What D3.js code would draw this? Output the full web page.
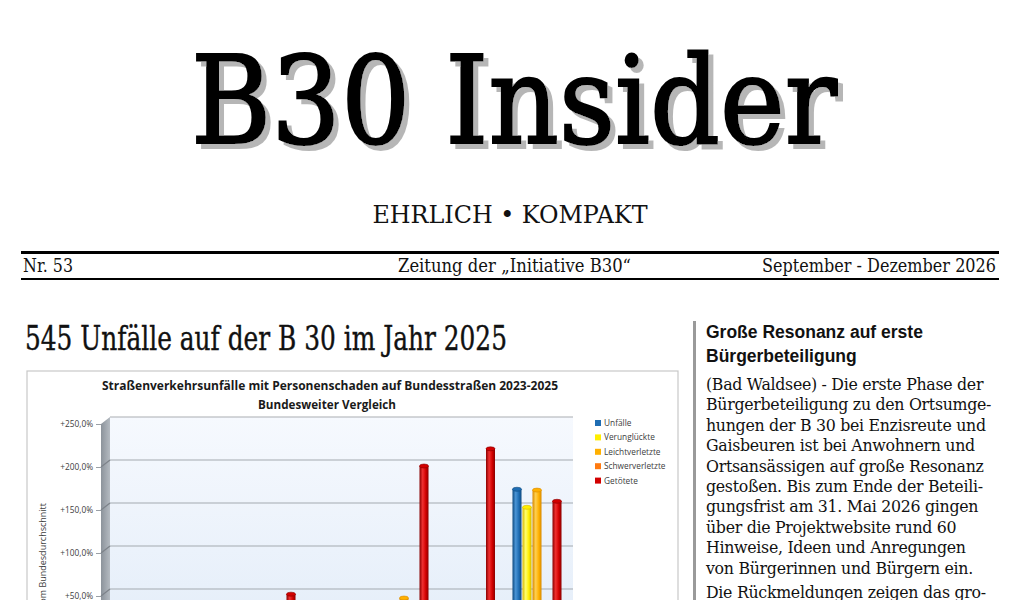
<!DOCTYPE html>
<html lang="de">
<head>
<meta charset="utf-8">
<title>B30 Insider</title>
<script src="https://cdn.jsdelivr.net/npm/d3@7"></script>
<style>
  html, body { margin: 0; padding: 0; background: #fff; }
  svg { display: block; }
</style>
</head>
<body>
<script>
(function (d3) {
    "use strict";

    /***** Data *****/
    var groups = ["BW 2023", "BW 2024", "BW 2025", "B 30 2023", "B 30 2024", "B 30 2025", "B 30 Ø"];
    var seriesNames = ["Unfälle", "Verunglückte", "Leichtverletzte", "Schwerverletzte", "Getötete"];
    var unfaelle        = [12, 8, 20, 15, 24, 26, 166];
    var verunglueckte   = [10, 5, 18, 12, 22, 20, 145];
    var leichtverletzte = [8, 3, 15, 10, 39.5, 18, 165];
    var schwerverletzte = [18, 14, 24, 20, 25, 22, 25];
    var getoetete       = [-20, 22, 44, 10, 193, 213, 152];
    var yTicks = [-100, -50, 0, 50, 100, 150, 200, 250];

    var headerTexts = ["Nr. 53", "Zeitung der „Initiative B30“", "September - Dezember 2026"];
    var sideTitle = ["Große Resonanz auf erste", "Bürgerbeteiligung"];
    var sideBody = [
        "(Bad Waldsee) - Die erste Phase der",
        "Bürgerbeteiligung zu den Ortsumge-",
        "hungen der B 30 bei Enzisreute und",
        "Gaisbeuren ist bei Anwohnern und",
        "Ortsansässigen auf große Resonanz",
        "gestoßen. Bis zum Ende der Beteili-",
        "gungsfrist am 31. Mai 2026 gingen",
        "über die Projektwebsite rund 60",
        "Hinweise, Ideen und Anregungen",
        "von Bürgerinnen und Bürgern ein."
    ];
    var sideBody2 = ["Die Rückmeldungen zeigen das gro-"];

    var seriesValues = [unfaelle, verunglueckte, leichtverletzte, schwerverletzte, getoetete];
    var seriesColors = ["#1f6db3", "#ffee00", "#ffb000", "#ff7a10", "#d20000"];
    var seriesDark   = ["#0e4a80", "#d8b800", "#d88a00", "#c85000", "#8a0000"];
    var seriesLight  = ["#4b95d6", "#ffff70", "#ffd050", "#ffa050", "#f03030"];

    var serif = "'DejaVu Serif', 'Liberation Serif', serif";
    var sans = "'Liberation Sans', Arial, sans-serif";
    var chartFont = "'Open Sans', 'Noto Sans', sans-serif";

    var svg = d3.select("body").append("svg")
        .attr("width", 1024)
        .attr("height", 600);

    svg.append("rect").attr("width", 1024).attr("height", 600).attr("fill", "#fff");

    var defs = svg.append("defs");

    /***** Masthead *****/
    var shadow = defs.append("filter").attr("id", "shadow")
        .attr("x", "-5%").attr("y", "-10%").attr("width", "115%").attr("height", "130%");
    shadow.append("feOffset").attr("in", "SourceAlpha").attr("dx", 5).attr("dy", 5).attr("result", "off");
    shadow.append("feFlood").attr("flood-color", "#b6b6b6");
    shadow.append("feComposite").attr("in2", "off").attr("operator", "in").attr("result", "sh");
    var merge = shadow.append("feMerge");
    merge.append("feMergeNode").attr("in", "sh");
    merge.append("feMergeNode").attr("in", "SourceGraphic");

    var mast = svg.append("g").attr("font-family", serif).attr("text-anchor", "middle");
    mast.append("text")
        .attr("x", 514).attr("y", 143)
        .attr("font-size", 122).attr("fill", "#000")
        .attr("stroke", "#000").attr("stroke-width", 2.2)
        .attr("textLength", 646).attr("lengthAdjust", "spacingAndGlyphs")
        .attr("filter", "url(#shadow)")
        .text("B30 Insider");
    mast.append("text")
        .attr("x", 510).attr("y", 223)
        .attr("font-size", 25).attr("fill", "#111")
        .attr("textLength", 275).attr("lengthAdjust", "spacingAndGlyphs")
        .text("EHRLICH • KOMPAKT");

    svg.append("rect").attr("x", 21).attr("y", 251).attr("width", 978).attr("height", 3).attr("fill", "#000");
    svg.append("rect").attr("x", 21).attr("y", 278).attr("width", 978).attr("height", 2).attr("fill", "#000");

    var headerPos = [{x: 23, w: 50}, {x: 398, w: 233}, {x: 762, w: 234}];
    svg.append("g").selectAll("text")
        .data(headerTexts)
        .join("text")
        .attr("x", function (d, i) { return headerPos[i].x; })
        .attr("y", 272)
        .attr("font-family", serif).attr("font-size", 19).attr("fill", "#111")
        .attr("textLength", function (d, i) { return headerPos[i].w; })
        .attr("lengthAdjust", "spacingAndGlyphs")
        .text(function (d) { return d; });

    /***** Article heading *****/
    svg.append("text")
        .attr("x", 25).attr("y", 350)
        .attr("font-family", serif).attr("font-size", 33).attr("fill", "#111")
        .attr("stroke", "#111").attr("stroke-width", 0.4)
        .attr("textLength", 482).attr("lengthAdjust", "spacingAndGlyphs")
        .text("545 Unfälle auf der B 30 im Jahr 2025");

    /***** Side column *****/
    svg.append("rect").attr("x", 693).attr("y", 321).attr("width", 3).attr("height", 290).attr("fill", "#9a9a9a");

    svg.append("g").selectAll("text")
        .data(sideTitle)
        .join("text")
        .attr("x", 706)
        .attr("y", function (d, i) { return 338 + i * 24; })
        .attr("font-family", sans).attr("font-weight", "bold").attr("font-size", 17.5).attr("fill", "#111")
        .text(function (d) { return d; });

    svg.append("g").selectAll("text")
        .data(sideBody.concat(sideBody2))
        .join("text")
        .attr("x", 706)
        .attr("y", function (d, i) { return 390 + i * 20.4 + (i >= sideBody.length ? 4 : 0); })
        .attr("font-family", serif).attr("font-size", 15.8).attr("letter-spacing", -0.3).attr("fill", "#111")
        .text(function (d) { return d; });

    /***** Chart *****/
    var wallGrad = defs.append("linearGradient").attr("id", "wall").attr("x1", 0).attr("y1", 0).attr("x2", 0).attr("y2", 1);
    wallGrad.append("stop").attr("offset", 0).attr("stop-color", "#f6f9fe");
    wallGrad.append("stop").attr("offset", 1).attr("stop-color", "#dde9f7");
    var sideGrad = defs.append("linearGradient").attr("id", "side").attr("x1", 0).attr("y1", 0).attr("x2", 1).attr("y2", 0);
    sideGrad.append("stop").attr("offset", 0).attr("stop-color", "#8c939b");
    sideGrad.append("stop").attr("offset", 1).attr("stop-color", "#b4bac1");

    seriesNames.forEach(function (name, i) {
        var g = defs.append("linearGradient").attr("id", "bar" + i).attr("x1", 0).attr("y1", 0).attr("x2", 1).attr("y2", 0);
        g.append("stop").attr("offset", 0).attr("stop-color", seriesDark[i]);
        g.append("stop").attr("offset", 0.35).attr("stop-color", seriesLight[i]);
        g.append("stop").attr("offset", 0.7).attr("stop-color", seriesColors[i]);
        g.append("stop").attr("offset", 1).attr("stop-color", seriesDark[i]);
    });

    var chart = svg.append("g");
    chart.append("rect")
        .attr("x", 27).attr("y", 371).attr("width", 651).attr("height", 320)
        .attr("fill", "#fff").attr("stroke", "#c8c8c8").attr("stroke-width", 1.2);

    var depth = {dx: 9, dy: 7};
    var yScale = d3.scaleLinear().domain([-100, 250]).range([718, 417]);
    var xScale = d3.scaleBand().domain(groups).range([113, 562]).paddingInner(0.248);
    var xSub = d3.scaleBand().domain(seriesNames).range([0, xScale.bandwidth()]);

    var wallLeft = 110, wallRight = 573;
    chart.append("rect")
        .attr("x", wallLeft).attr("y", yScale(250))
        .attr("width", wallRight - wallLeft).attr("height", yScale(-100) - yScale(250))
        .attr("fill", "url(#wall)");
    chart.append("line")
        .attr("x1", wallLeft).attr("x2", wallRight)
        .attr("y1", yScale(250)).attr("y2", yScale(250))
        .attr("stroke", "#a9adb2").attr("stroke-width", 1.2);

    chart.append("path")
        .attr("d", "M" + (wallLeft - depth.dx) + "," + (yScale(250) + depth.dy) +
            "L" + wallLeft + "," + yScale(250) +
            "L" + wallLeft + "," + yScale(-100) +
            "L" + (wallLeft - depth.dx) + "," + (yScale(-100) + depth.dy) + "Z")
        .attr("fill", "url(#side)");

    // gridlines on back wall and side wall
    var grid = chart.append("g").attr("stroke", "#a4a9af").attr("stroke-width", 1.2);
    yTicks.filter(function (t) { return t < 250; }).forEach(function (t) {
        grid.append("line")
            .attr("x1", wallLeft).attr("x2", wallRight)
            .attr("y1", yScale(t)).attr("y2", yScale(t));
        grid.append("line")
            .attr("x1", wallLeft - depth.dx).attr("x2", wallLeft)
            .attr("y1", yScale(t) + depth.dy).attr("y2", yScale(t))
            .attr("stroke", "#7d838a");
    });

    // y axis at the front edge
    var deFormat = d3.formatLocale({decimal: ",", thousands: ".", grouping: [3], currency: ["", "€"]}).format("+.1f");
    var yAxis = d3.axisLeft(yScale)
        .tickValues(yTicks)
        .tickSize(5)
        .tickPadding(3)
        .tickFormat(function (d) { return deFormat(d) + "%"; });
    var axisG = chart.append("g")
        .attr("transform", "translate(" + (wallLeft - depth.dx) + "," + depth.dy + ")")
        .call(yAxis);
    axisG.select(".domain").remove();
    axisG.selectAll(".tick line").attr("stroke", "#9aa0a6");
    axisG.selectAll(".tick text")
        .attr("font-family", chartFont).attr("font-size", 8.3).attr("fill", "#404040");

    chart.append("text")
        .attr("transform", "translate(46,503) rotate(-90)")
        .attr("text-anchor", "end")
        .attr("font-family", chartFont).attr("font-size", 9).attr("fill", "#404040")
        .text("Abweichung vom Bundesdurchschnitt");

    // bars as cylinders
    var barData = [];
    groups.forEach(function (g, gi) {
        seriesNames.forEach(function (s, si) {
            barData.push({group: g, series: s, si: si, value: seriesValues[si][gi]});
        });
    });
    var bw = xSub.bandwidth();
    var bars = chart.append("g").selectAll("g")
        .data(barData)
        .join("g")
        .attr("transform", function (d) { return "translate(" + (xScale(d.group) + xSub(d.series)) + ",0)"; });
    bars.append("rect")
        .attr("x", 0.5)
        .attr("width", bw - 1)
        .attr("y", function (d) { return Math.min(yScale(d.value), yScale(0)); })
        .attr("height", function (d) { return Math.abs(yScale(0) - yScale(d.value)); })
        .attr("fill", function (d) { return "url(#bar" + d.si + ")"; });
    bars.append("ellipse")
        .attr("cx", bw / 2)
        .attr("cy", function (d) { return yScale(d.value); })
        .attr("rx", bw / 2 - 0.5)
        .attr("ry", 2)
        .attr("fill", function (d) { return seriesColors[d.si]; })
        .attr("stroke", function (d) { return seriesDark[d.si]; })
        .attr("stroke-width", 0.6);

    // title
    var titleG = chart.append("g")
        .attr("font-family", chartFont).attr("font-weight", "bold")
        .attr("fill", "#1a1a1a").attr("text-anchor", "middle");
    titleG.append("text")
        .attr("x", 330).attr("y", 390).attr("font-size", 12)
        .attr("textLength", 456).attr("lengthAdjust", "spacingAndGlyphs")
        .text("Straßenverkehrsunfälle mit Personenschaden auf Bundesstraßen 2023-2025");
    titleG.append("text")
        .attr("x", 327).attr("y", 409).attr("font-size", 12)
        .attr("textLength", 138).attr("lengthAdjust", "spacingAndGlyphs")
        .text("Bundesweiter Vergleich");

    // legend
    var legend = chart.append("g").selectAll("g")
        .data(seriesNames)
        .join("g")
        .attr("transform", function (d, i) { return "translate(595," + (423 + i * 14.4) + ")"; });
    legend.append("rect")
        .attr("x", 0).attr("y", -3).attr("width", 6).attr("height", 6)
        .attr("fill", function (d, i) { return seriesColors[i]; });
    legend.append("text")
        .attr("x", 9).attr("dy", "0.35em")
        .attr("font-family", chartFont).attr("font-size", 8.3).attr("fill", "#404040")
        .text(function (d) { return d; });

})(d3);
</script>
</body>
</html>
